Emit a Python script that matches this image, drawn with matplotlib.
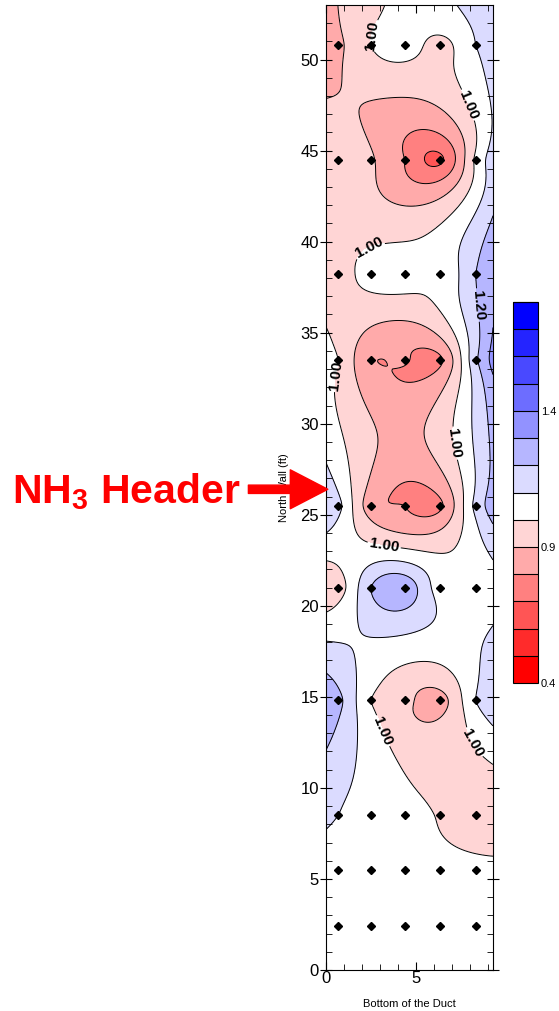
import numpy as np
import matplotlib
matplotlib.use("Agg")
import matplotlib.pyplot as plt
from matplotlib.ticker import MultipleLocator

plt.rcParams['font.family'] = ['Liberation Sans', 'DejaVu Sans']
plt.rcParams['mathtext.fontset'] = 'custom'
plt.rcParams['mathtext.rm'] = 'Liberation Sans'
plt.rcParams['mathtext.bf'] = 'Liberation Sans:bold'

# probe positions across the duct bottom (ft) and along the north wall (ft)
probe_x = [0.67, 2.5, 4.35, 6.3, 8.3]
probe_y = [50.8, 44.5, 38.2, 33.5, 25.5, 21.0, 14.8, 8.5, 5.5, 2.4]

# normalised NH3/NOx ratio at each probe, one row per probe_y
ratio = [
    [0.88, 1.00, 1.05, 0.97, 1.10],
    [0.98, 0.91, 0.80, 0.68, 1.02],
    [0.96, 1.04, 1.05, 1.02, 1.20],
    [1.00, 0.81, 0.81, 0.78, 1.18],
    [1.13, 0.84, 0.80, 0.78, 1.13],
    [0.95, 1.20, 1.27, 1.05, 1.02],
    [1.23, 1.00, 0.93, 0.86, 1.10],
    [1.10, 1.05, 1.04, 0.99, 0.92],
    [1.05, 1.05, 1.05, 1.04, 1.03],
    [1.05, 1.05, 1.05, 1.05, 1.05],
]

levels = np.round(np.arange(0.4, 1.81, 0.1), 2)
label_levels = [1.0, 1.2]
# red -> white -> blue bands
reds = [(1.0, i / 6, i / 6) for i in range(6)]
blues = [((7 - j) / 7, (7 - j) / 7, 1.0) for j in range(1, 8)]
band_colors = reds + [(1.0, 1.0, 1.0)] + blues

label_pos = [(1.7, 51.5), (8.1, 47.6), (2.3, 39.8), (8.2, 36.5), (0.9, 32.6),
             (7.6, 29.0), (3.2, 23.2), (2.3, 12.8), (8.0, 12.4)]

# stretch along the wall so neighbouring rows pull less on each other
Y_SCALE = 1.6


def thin_plate(xp, yp, vp, xg, yg):
    # thin-plate spline surface through the probe readings
    def kernel(r):
        return np.where(r > 0, r ** 2 * np.log(np.maximum(r, 1e-12)), 0.0)

    n = len(xp)
    r = np.hypot(xp[:, None] - xp[None, :], yp[:, None] - yp[None, :])
    P = np.column_stack([np.ones(n), xp, yp])
    A = np.zeros((n + 3, n + 3))
    A[:n, :n] = kernel(r)
    A[:n, n:] = P
    A[n:, :n] = P.T
    coef = np.linalg.solve(A, np.concatenate([vp, np.zeros(3)]))
    w, a = coef[:n], coef[n:]
    rg = np.hypot(xg.ravel()[:, None] - xp[None, :], yg.ravel()[:, None] - yp[None, :])
    z = kernel(rg) @ w + a[0] + a[1] * xg.ravel() + a[2] * yg.ravel()
    return z.reshape(xg.shape)


px, py = np.meshgrid(probe_x, probe_y)
vals = np.array(ratio)
gx, gy = np.meshgrid(np.linspace(0, 9.25, 186), np.linspace(0, 53, 531))
gz = thin_plate(px.ravel(), py.ravel() * Y_SCALE, vals.ravel(), gx, gy * Y_SCALE)

fig = plt.figure(figsize=(5.59, 10.11), dpi=100)
ax = fig.add_axes([0.5832, 0.0406, 0.2987, 0.9545])

cf = ax.contourf(gx, gy, gz, levels=levels, colors=band_colors)
plain = [lv for lv in levels if lv not in label_levels]
ax.contour(gx, gy, gz, levels=plain, colors='k', linewidths=0.7)
cs = ax.contour(gx, gy, gz, levels=label_levels, colors='k', linewidths=0.7)
labels = ax.clabel(cs, manual=label_pos, fmt='%.2f', fontsize=11,
                   inline=True, inline_spacing=2)
for t in labels:
    t.set_fontweight('bold')

ax.plot(px.ravel(), py.ravel(), 'kD', markersize=4.2)

ax.set_xlim(0, 9.25)
ax.set_ylim(0, 53)
ax.xaxis.set_major_locator(MultipleLocator(5))
ax.xaxis.set_minor_locator(MultipleLocator(1))
ax.yaxis.set_major_locator(MultipleLocator(5))
ax.yaxis.set_minor_locator(MultipleLocator(1))
ax.tick_params(which='both', top=True, right=True, labelsize=12, pad=1)
ax.tick_params(axis='x', which='major', direction='in', length=6)
ax.tick_params(axis='x', which='minor', direction='in', length=4)
ax.tick_params(axis='y', which='major', direction='inout', length=8)
ax.tick_params(axis='y', which='minor', direction='in', length=4)
for s in ax.spines.values():
    s.set_linewidth(0.8)

ax.set_xlabel('Bottom of the Duct', fontsize=8)
ax.xaxis.set_label_coords(0.5, -0.030)
ax.set_ylabel('North Wall (ft)', fontsize=8)
ax.yaxis.set_label_coords(-0.22, 0.5)

# colour key
cax = fig.add_axes([0.918, 0.3244, 0.0447, 0.3769])
cb = fig.colorbar(cf, cax=cax, drawedges=True, ticks=[0.4, 0.9, 1.4])
cb.ax.tick_params(length=0, labelsize=8, pad=2)
cb.outline.set_linewidth(0.8)
cb.dividers.set_linewidth(0.8)

# header marker
ax.annotate('', xy=(0.1, 26.4), xytext=(-4.3, 26.4), annotation_clip=False,
            arrowprops=dict(width=6, headwidth=28, headlength=27, color='red', shrink=0))
fig.text(0.021, 0.514, r'NH$_\mathbf{3}$ Header', color='red', fontsize=29.5,
         fontweight='bold', ha='left', va='center')

fig.savefig('out.png', dpi=100)
